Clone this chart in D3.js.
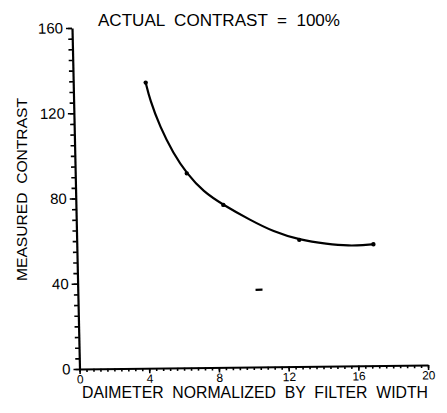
<!DOCTYPE html>
<html>
<head>
<meta charset="utf-8">
<script src="https://cdn.jsdelivr.net/npm/d3@7"></script>
<style>
  body { margin: 0; background: #fff; }
  text { font-family: "Liberation Sans", Arial, sans-serif; fill: #000; }
  .ttl { white-space: pre; }
</style>
</head>
<body>
<script>
// values
const curveX = [4.16, 4.38, 4.92, 5.65, 6.40, 7.33, 8.46, 9.97, 11.29, 12.77, 14.34, 15.67, 16.44, 17.02];
const curveY = [134.0, 125.9, 113.2, 100.7, 91.2, 82.5, 76.2, 69.0, 63.4, 59.4, 57.3, 56.3, 56.6, 56.9];
const pointX = [4.16, 6.40, 8.46, 12.77, 17.02];
const pointY = [134.0, 91.2, 76.2, 59.4, 56.9];
const strayX = [10.2, 10.6];
const strayY = [36.2, 36.2];
const xTicks = [0, 4, 8, 12, 16, 20];
const yTicks = [0, 40, 80, 120, 160];

const width = 447, height = 413;
const plotW = 348.5, plotH = 341;

const svg = d3.select("body").append("svg")
  .attr("width", width)
  .attr("height", height);

svg.append("rect").attr("width", width).attr("height", height).attr("fill", "#fff");

// scan is slightly skewed, so the plot group gets a small shear
const g = svg.append("g")
  .attr("transform", "matrix(1,-0.0115,0.022,1,79.5,369)");

const x = d3.scaleLinear().domain([0, 20]).range([0, plotW]);
const y = d3.scaleLinear().domain([0, 160]).range([0, -plotH]);

// minor ticks
g.append("g")
  .call(d3.axisBottom(x).tickValues(d3.range(0, 20.001, 0.4)).tickSize(3).tickFormat(""))
  .call(a => a.select(".domain").remove());
g.append("g")
  .call(d3.axisLeft(y).tickValues(d3.range(0, 160.001, 5)).tickSize(4).tickFormat(""))
  .call(a => a.select(".domain").remove());

// major ticks + labels
const xAxis = g.append("g")
  .call(d3.axisBottom(x).tickValues(xTicks).tickSize(5).tickSizeOuter(0).tickPadding(1));
xAxis.selectAll("text").attr("font-size", 12).attr("font-family", "Liberation Sans");
const yAxis = g.append("g")
  .call(d3.axisLeft(y).tickValues(yTicks).tickSize(6).tickSizeOuter(0).tickPadding(3));
yAxis.selectAll("text").attr("font-size", 15).attr("font-family", "Liberation Sans");

g.selectAll(".domain").attr("stroke", "#000").attr("stroke-width", 2.2);
g.selectAll(".tick line").attr("stroke", "#000").attr("stroke-width", 1.6);

const curve = curveX.map((d, i) => [d, curveY[i]]);
g.append("path")
  .attr("d", d3.line().x(d => x(d[0])).y(d => y(d[1])).curve(d3.curveBasis)(curve))
  .attr("fill", "none")
  .attr("stroke", "#000")
  .attr("stroke-width", 2.2);

g.selectAll(".pt")
  .data(pointX.map((d, i) => [d, pointY[i]]))
  .join("circle")
  .attr("cx", d => x(d[0]))
  .attr("cy", d => y(d[1]))
  .attr("r", 2.2)
  .attr("fill", "#000");

g.append("line")
  .attr("x1", x(strayX[0])).attr("x2", x(strayX[1]))
  .attr("y1", y(strayY[0])).attr("y2", y(strayY[1]))
  .attr("stroke", "#000").attr("stroke-width", 2.2);

// titles
svg.append("text").attr("class", "ttl")
  .attr("x", 98).attr("y", 26)
  .attr("font-size", 16)
  .attr("textLength", 242).attr("lengthAdjust", "spacingAndGlyphs")
  .text("ACTUAL  CONTRAST  =  100%");

svg.append("text").attr("class", "ttl")
  .attr("transform", "translate(27,281) rotate(-90)")
  .attr("font-size", 14)
  .attr("textLength", 183).attr("lengthAdjust", "spacingAndGlyphs")
  .text("MEASURED  CONTRAST");

svg.append("text").attr("class", "ttl")
  .attr("x", 82).attr("y", 398)
  .attr("font-size", 16)
  .attr("textLength", 346).attr("lengthAdjust", "spacingAndGlyphs")
  .text("DAIMETER  NORMALIZED  BY  FILTER  WIDTH");
</script>
</body>
</html>
